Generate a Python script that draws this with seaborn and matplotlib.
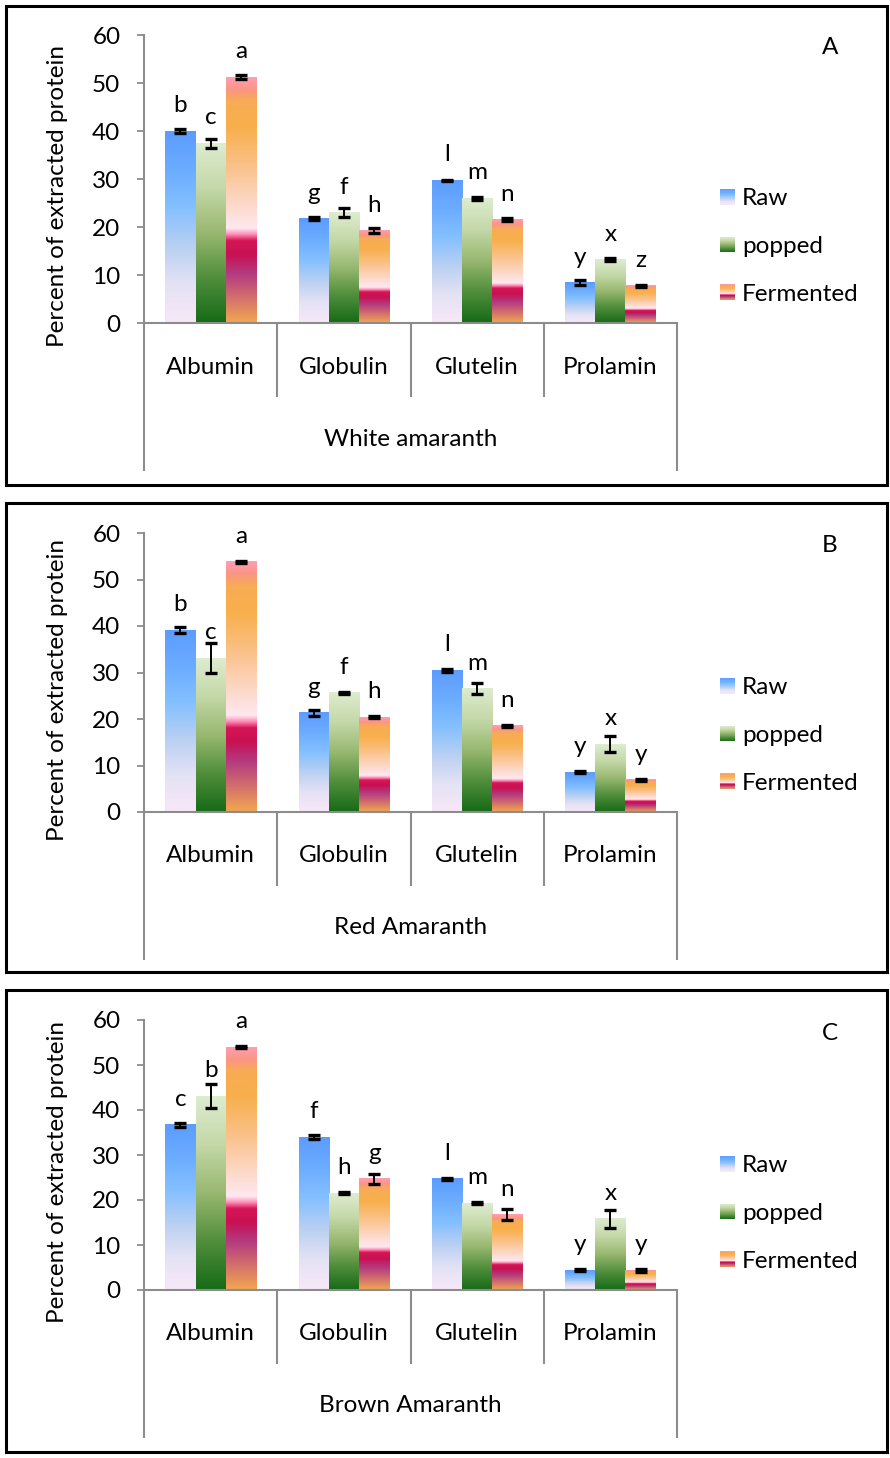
import numpy as np
import pandas as pd
import matplotlib
matplotlib.use("Agg")
import matplotlib.pyplot as plt
import matplotlib.transforms as mtrans
from matplotlib.colors import LinearSegmentedColormap
from matplotlib.patches import Rectangle
from matplotlib.legend_handler import HandlerBase
import seaborn as sns

# ---------------- data ----------------
fractions = ["Albumin", "Globulin", "Glutelin", "Prolamin"]
treatments = ["Raw", "popped", "Fermented"]
panel_ids = ["A", "B", "C"]
varieties = ["White amaranth", "Red Amaranth", "Brown Amaranth"]

white_raw = [40.0, 21.7, 29.7, 8.4]
white_popped = [37.4, 23.0, 26.0, 13.2]
white_fermented = [51.2, 19.2, 21.5, 7.8]
white_raw_err = [0.5, 0.3, 0.15, 0.5]
white_popped_err = [0.9, 1.0, 0.3, 0.3]
white_fermented_err = [0.4, 0.5, 0.3, 0.2]
white_letters = [["b", "g", "l", "y"], ["c", "f", "m", "x"], ["a", "h", "n", "z"]]

red_raw = [39.1, 21.3, 30.5, 8.6]
red_popped = [33.1, 25.6, 26.5, 14.6]
red_fermented = [53.8, 20.4, 18.5, 6.9]
red_raw_err = [0.6, 0.6, 0.3, 0.2]
red_popped_err = [3.3, 0.2, 1.2, 1.8]
red_fermented_err = [0.2, 0.2, 0.2, 0.3]
red_letters = [["b", "g", "l", "y"], ["c", "f", "m", "x"], ["a", "h", "n", "y"]]

brown_raw = [36.7, 34.0, 24.7, 4.4]
brown_popped = [43.1, 21.5, 19.3, 15.8]
brown_fermented = [54.0, 24.7, 16.7, 4.4]
brown_raw_err = [0.4, 0.5, 0.2, 0.2]
brown_popped_err = [2.6, 0.2, 0.2, 2.0]
brown_fermented_err = [0.3, 1.1, 1.2, 0.3]
brown_letters = [["c", "f", "l", "y"], ["b", "h", "m", "x"], ["a", "g", "n", "y"]]

panels = [
    (white_raw, white_popped, white_fermented,
     white_raw_err, white_popped_err, white_fermented_err, white_letters),
    (red_raw, red_popped, red_fermented,
     red_raw_err, red_popped_err, red_fermented_err, red_letters),
    (brown_raw, brown_popped, brown_fermented,
     brown_raw_err, brown_popped_err, brown_fermented_err, brown_letters),
]

# ---------------- styles ----------------
def rgb(*c):
    return tuple(v / 255 for v in c)

raw_cmap = LinearSegmentedColormap.from_list("raw", [
    (0.0, rgb(248, 232, 248)), (0.2, rgb(228, 226, 245)), (0.4, rgb(185, 208, 242)),
    (0.6, rgb(132, 192, 255)), (0.8, rgb(108, 172, 255)), (1.0, rgb(92, 156, 255))])
pop_cmap = LinearSegmentedColormap.from_list("pop", [
    (0.0, rgb(22, 106, 22)), (0.25, rgb(80, 142, 60)), (0.5, rgb(152, 184, 112)),
    (0.75, rgb(196, 216, 168)), (1.0, rgb(222, 236, 208))])
fer_cmap = LinearSegmentedColormap.from_list("fer", [
    (0.0, rgb(242, 168, 80)), (0.1, rgb(212, 112, 108)), (0.2, rgb(180, 58, 128)),
    (0.28, rgb(200, 16, 82)), (0.335, rgb(214, 22, 86)), (0.36, rgb(255, 140, 182)),
    (0.385, rgb(255, 232, 240)), (0.5, rgb(253, 214, 194)), (0.65, rgb(250, 192, 132)),
    (0.8, rgb(248, 175, 75)), (0.9, rgb(248, 172, 84)), (0.95, rgb(250, 150, 130)),
    (1.0, rgb(255, 158, 180))])
cmaps = [raw_cmap, pop_cmap, fer_cmap]

FONT = "Lato"
FS = 17.5
GRAY = "#8c8c8c"
W, H, DPI = 890, 1458, 100

plt.rcParams["font.family"] = [FONT, "DejaVu Sans"]

fig = plt.figure(figsize=(W / DPI, H / DPI), dpi=DPI)

# pixel layout of each panel: box top, box bottom, y of 0, y of 60
layout = [
    dict(box=(6, 485), y0=323, y60=35),
    dict(box=(503, 972), y0=812, y60=533),
    dict(box=(990, 1452), y0=1290, y60=1020),
]
X_LEFT, X_RIGHT = 144, 677


class GradientHandle(Rectangle):
    def __init__(self, cmap):
        super().__init__((0, 0), 1, 1)
        self.cmap = cmap


class HandlerGradient(HandlerBase):
    def create_artists(self, legend, orig_handle, xdescent, ydescent,
                       width, height, fontsize, trans):
        n = 30
        arts = []
        for k in range(n):
            r = Rectangle((-xdescent, -ydescent + k * height / n), width,
                          height / n * 1.08,
                          facecolor=orig_handle.cmap((k + 0.5) / n),
                          edgecolor="none", transform=trans)
            arts.append(r)
        return arts


def fx(px):
    return px / W


def fy(py):
    return 1 - py / H


grad = np.linspace(0, 1, 512).reshape(-1, 1)

for p, (vals, lay) in enumerate(zip(panels, layout)):
    raw, pop, fer, e_raw, e_pop, e_fer, letters = vals
    y0, y60 = lay["y0"], lay["y60"]
    ax_h = y0 - y60

    # box
    bt, bb = lay["box"]
    fig.patches.append(Rectangle((fx(6), fy(bb)), fx(887 - 6), (bb - bt) / H,
                                 transform=fig.transFigure, fill=False,
                                 edgecolor="black", linewidth=2.2, zorder=0))

    ax = fig.add_axes([fx(X_LEFT), fy(y0), fx(X_RIGHT - X_LEFT), ax_h / H])
    df = pd.DataFrame({
        "Fraction": fractions * 3,
        "Treatment": sum([[t] * 4 for t in treatments], []),
        "Value": list(raw) + list(pop) + list(fer),
    })
    sns.barplot(data=df, x="Fraction", y="Value", hue="Treatment",
                order=fractions, hue_order=treatments, errorbar=None,
                width=0.68, ax=ax, legend=False, saturation=1)

    errs = [e_raw, e_pop, e_fer]
    bar_conts = list(ax.containers)
    for i, cont in enumerate(bar_conts):
        xs, hs = [], []
        for j, bar in enumerate(cont.patches):
            x0, w, h = bar.get_x(), bar.get_width(), bar.get_height()
            ax.imshow(grad, extent=[x0, x0 + w, 0, h], origin="lower",
                      aspect="auto", cmap=cmaps[i], zorder=2,
                      interpolation="bilinear")
            bar.set_facecolor("none")
            bar.set_edgecolor("none")
            xs.append(x0 + w / 2)
            hs.append(h)
            ax.annotate(letters[i][j], (x0 + w / 2, h), xytext=(0, 13.7),
                        textcoords="offset points", ha="center",
                        va="baseline", fontsize=FS, color="black")
        ax.errorbar(xs, hs, yerr=errs[i], fmt="none", ecolor="black",
                    elinewidth=1.4, capsize=4.3, capthick=2.4, zorder=4)

    ax.set_xlim(-0.5, 3.5)
    ax.set_ylim(0, 60)
    ax.set_yticks(range(0, 61, 10))
    ax.tick_params(axis="y", length=5, width=1.3, color=GRAY, pad=12,
                   labelsize=FS)
    ax.set_xticks([])
    ax.set_xlabel("")
    ax.set_ylabel("")
    for s in ["top", "right"]:
        ax.spines[s].set_visible(False)
    for s in ["left", "bottom"]:
        ax.spines[s].set_color(GRAY)
        ax.spines[s].set_linewidth(1.5)

    tr = mtrans.blended_transform_factory(ax.transData, ax.transAxes)
    inner = -74 / ax_h
    outer = -148 / ax_h
    for xb in [-0.5, 0.5, 1.5, 2.5, 3.5]:
        low = outer if xb in (-0.5, 3.5) else inner
        ax.plot([xb, xb], [0, low], transform=tr, color=GRAY, lw=1.5,
                clip_on=False, solid_capstyle="butt")
    for k, f in enumerate(fractions):
        ax.text(k, -44 / ax_h, f, transform=tr, ha="center", va="center",
                fontsize=FS)
    ax.text(1.5, -116 / ax_h, varieties[p], transform=tr, ha="center",
            va="center", fontsize=FS)

    mid = (y0 + y60) / 2 + 17
    fig.text(fx(58), fy(mid), "Percent of extracted protein", rotation=90,
             ha="center", va="center", fontsize=FS)
    fig.text(fx(830), fy(y60 + 13), panel_ids[p], ha="center", va="center",
             fontsize=FS)

    handles = [GradientHandle(c) for c in cmaps]
    ax.legend(handles, treatments,
              handler_map={GradientHandle: HandlerGradient()},
              loc="center left", bbox_to_anchor=(fx(720), fy(y0 - 76.5)),
              bbox_transform=fig.transFigure, frameon=False, fontsize=FS,
              handlelength=0.62, handleheight=0.62, handletextpad=0.28,
              labelspacing=1.1, borderpad=0, borderaxespad=0)

fig.savefig("out.png", dpi=DPI)
